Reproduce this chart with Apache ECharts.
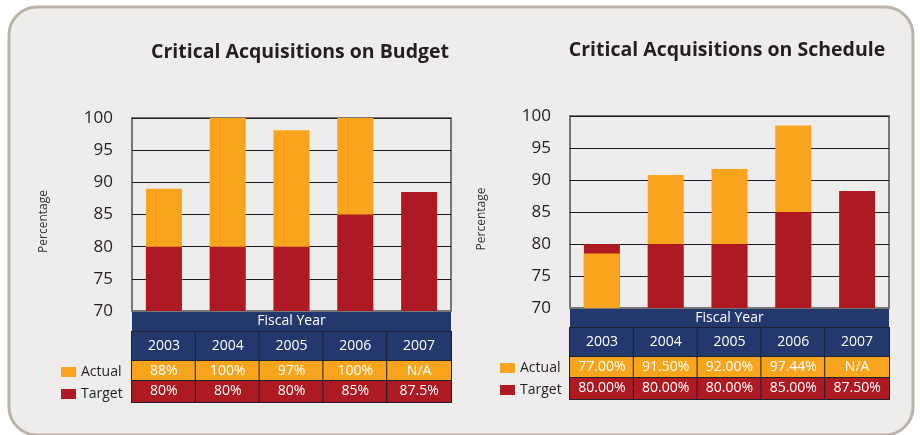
<!DOCTYPE html>
<html>
<head>
<meta charset="utf-8">
<script src="https://cdn.jsdelivr.net/npm/echarts@6/dist/echarts.min.js"></script>
<style>
  html, body { margin: 0; padding: 0; background: #fff; }
  #main { width: 920px; height: 435px; }
</style>
</head>
<body>
<div id="main"></div>
<script>
// categories
var years = ['2003', '2004', '2005', '2006', '2007'];

// bar heights
var budgetActual = [89, 100, 98.1, 100, null];
var budgetTarget = [80, 80, 80, 85, 88.5];
var scheduleActual = [78.5, 90.8, 91.7, 98.5, null];
var scheduleTarget = [80, 80, 80, 85, 88.3];

// table texts under each chart
var budgetActualText = ['88%', '100%', '97%', '100%', 'N/A'];
var budgetTargetText = ['80%', '80%', '80%', '85%', '87.5%'];
var scheduleActualText = ['77.00%', '91.50%', '92.00%', '97.44%', 'N/A'];
var scheduleTargetText = ['80.00%', '80.00%', '80.00%', '85.00%', '87.50%'];

var titles = ['Critical Acquisitions on Budget', 'Critical Acquisitions on Schedule'];

var ORANGE = '#f8a51d';
var RED = '#ae1a22';
var NAVY = '#23396d';
var FONT = 'Open Sans';
var W = 920, H = 435;

// plot areas; table rows hang below them
var grids = [
  { left: 132, right: 469, top: 118, bottom: 124 },
  { left: 570, right: 31, top: 116, bottom: 127 }
];
var rowHeights = [[21, 29, 20, 21], [20, 29, 21, 21]];

var myChart = echarts.init(document.getElementById('main'));

// x axis carries the table rows as rich labels
function tableAxis(g, actText, tgtText, rowH) {
  var cell = function (h, bg) {
    return {
      width: 63.8, height: h, lineHeight: h, align: 'center',
      backgroundColor: bg, color: '#fff', fontSize: 14, fontFamily: FONT,
      borderColor: '#1c2030', borderWidth: 1
    };
  };
  return {
    type: 'category',
    gridIndex: g,
    data: years,
    axisLine: { show: true, lineStyle: { color: '#777', width: 2 } },
    axisTick: { show: false },
    axisLabel: {
      interval: 0,
      margin: rowH[0],
      formatter: function (v, i) {
        return '{y|' + v + '}\n{a|' + actText[i] + '}\n{t|' + tgtText[i] + '}';
      },
      rich: {
        y: cell(rowH[1], NAVY),
        a: cell(rowH[2], ORANGE),
        t: cell(rowH[3], RED)
      }
    }
  };
}

function valueAxis(g) {
  return {
    type: 'value',
    gridIndex: g,
    min: 70,
    max: 100,
    interval: 5,
    axisLine: { show: false },
    axisTick: { show: false },
    axisLabel: { fontSize: 17, color: '#231f20', margin: 19, fontFamily: FONT },
    splitLine: { lineStyle: { color: '#1a1a1a', width: 1 } },
    name: 'Percentage',
    nameLocation: 'middle',
    nameRotate: 90,
    nameGap: 82,
    nameTextStyle: { fontSize: 12, color: '#333', fontFamily: FONT, padding: [0, 14, 0, 0] }
  };
}

function barSeries(g, actual, target) {
  // where actual is below target the orange bar sits in front
  var front = actual.map(function (v, i) {
    return v != null && v < target[i] ? v : '-';
  });
  return [
    { name: 'Actual', type: 'bar', xAxisIndex: g, yAxisIndex: g, data: actual.map(function (v) { return v == null ? '-' : v; }),
      barWidth: 36, barGap: '-100%', itemStyle: { color: ORANGE }, z: 2 },
    { name: 'Target', type: 'bar', xAxisIndex: g, yAxisIndex: g, data: target,
      barWidth: 36, barGap: '-100%', itemStyle: { color: RED }, z: 3 },
    { name: 'Actual', type: 'bar', xAxisIndex: g, yAxisIndex: g, data: front,
      barWidth: 36, barGap: '-100%', itemStyle: { color: ORANGE }, z: 4 }
  ];
}

// "Fiscal Year" header strip just under each plot area
function header(g) {
  var gr = grids[g];
  var x = gr.left, y = H - gr.bottom, w = W - gr.left - gr.right, h = rowHeights[g][0];
  return {
    type: 'group',
    children: [
      { type: 'rect', shape: { x: x, y: y, width: w, height: h }, style: { fill: NAVY } },
      { type: 'text', x: x + w / 2, y: y + h / 2,
        style: { text: 'Fiscal Year', fill: '#fff', font: '14px "Open Sans"', align: 'center', verticalAlign: 'middle' } }
    ]
  };
}

var legendBase = {
  data: ['Actual', 'Target'],
  orient: 'vertical',
  icon: 'rect',
  itemWidth: 15,
  itemHeight: 10,
  itemGap: 8,
  selectedMode: false,
  textStyle: { fontSize: 14, color: '#231f20', fontFamily: FONT }
};

var option = {
  animation: false,
  textStyle: { fontFamily: FONT },
  graphic: [
    { type: 'rect', z: -10, shape: { x: 9, y: 7, width: 904, height: 428, r: 28 },
      style: { fill: '#eeedeb', stroke: '#bab3a9', lineWidth: 3 } },
    header(0),
    header(1)
  ],
  title: [
    { text: titles[0], left: 295, top: 37, textAlign: 'center',
      textStyle: { fontSize: 19.5, fontWeight: 'bold', color: '#231f20', fontFamily: FONT } },
    { text: titles[1], left: 722, top: 35, textAlign: 'center',
      textStyle: { fontSize: 19.5, fontWeight: 'bold', color: '#231f20', fontFamily: FONT } }
  ],
  legend: [
    Object.assign({}, legendBase, { left: 56, top: 360 }),
    Object.assign({}, legendBase, { left: 495, top: 356 })
  ],
  grid: grids.map(function (gr) {
    return Object.assign({ show: true, borderColor: '#777', borderWidth: 2, backgroundColor: 'transparent' }, gr);
  }),
  xAxis: [
    tableAxis(0, budgetActualText, budgetTargetText, rowHeights[0]),
    tableAxis(1, scheduleActualText, scheduleTargetText, rowHeights[1])
  ],
  yAxis: [valueAxis(0), valueAxis(1)],
  series: barSeries(0, budgetActual, budgetTarget).concat(barSeries(1, scheduleActual, scheduleTarget))
};

myChart.setOption(option);
</script>
</body>
</html>
